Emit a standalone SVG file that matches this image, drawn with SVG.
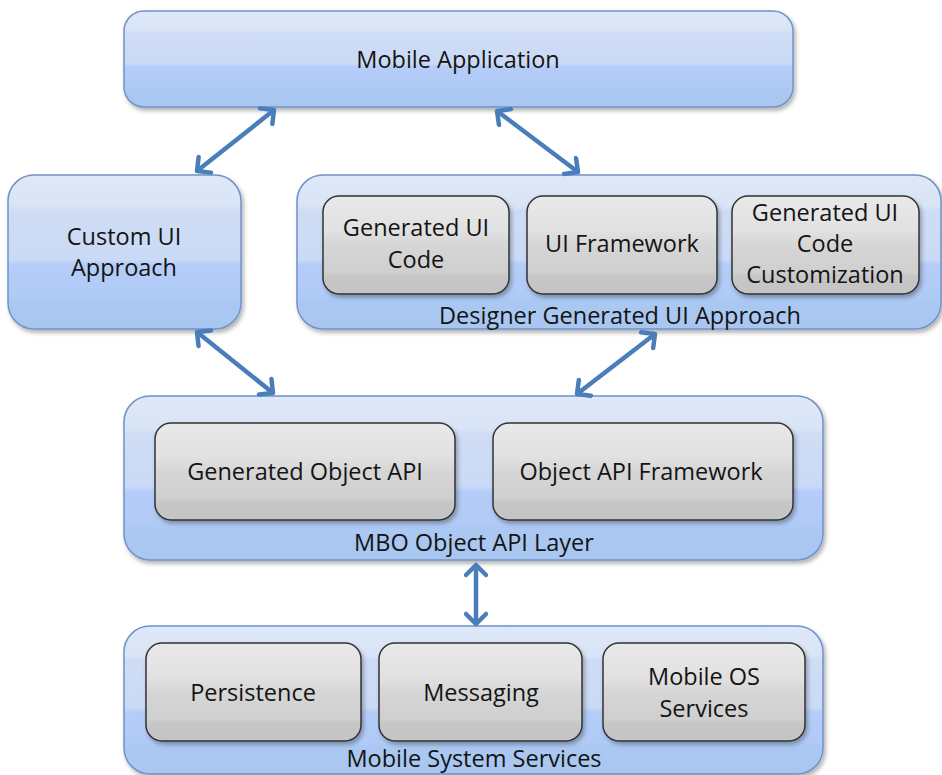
<svg xmlns="http://www.w3.org/2000/svg" width="942" height="775" viewBox="0 0 942 775">
  <defs>
    <linearGradient id="blue" x1="0" y1="0" x2="0" y2="1">
      <stop offset="0" stop-color="#dee8f8"/>
      <stop offset="0.2" stop-color="#d9e4f6"/>
      <stop offset="0.23" stop-color="#cfdcf5"/>
      <stop offset="0.55" stop-color="#cadaf6"/>
      <stop offset="0.58" stop-color="#b5cdf8"/>
      <stop offset="0.78" stop-color="#b0cbf6"/>
      <stop offset="0.82" stop-color="#aac8f2"/>
      <stop offset="1" stop-color="#a8c6ef"/>
    </linearGradient>
    <linearGradient id="gray" x1="0" y1="0" x2="0" y2="1">
      <stop offset="0" stop-color="#e9e9e9"/>
      <stop offset="0.35" stop-color="#e1e1e1"/>
      <stop offset="0.5" stop-color="#d6d6d6"/>
      <stop offset="0.78" stop-color="#cfcfcf"/>
      <stop offset="0.82" stop-color="#c6c6c6"/>
      <stop offset="1" stop-color="#c4c4c4"/>
    </linearGradient>
    <filter id="shadow" x="-5%" y="-5%" width="115%" height="125%">
      <feDropShadow dx="2" dy="3" stdDeviation="2" flood-color="#000" flood-opacity="0.3"/>
    </filter>
    <marker id="arrow" markerUnits="userSpaceOnUse" markerWidth="24" markerHeight="24" viewBox="0 0 24 24" refX="13" refY="12" orient="auto-start-reverse">
      <path d="M3,2 L13,12 L3,22" fill="none" stroke="#4a7ebb" stroke-width="4.5" stroke-linecap="round" stroke-linejoin="round"/>
    </marker>
  </defs>
  <style>
    .outer { fill: url(#blue); stroke: #7093c8; stroke-width: 1.5; filter: url(#shadow); }
    .inner { fill: url(#gray); stroke: #333; stroke-width: 1.5; filter: url(#shadow); }
    text { font-family: "Open Sans", "Liberation Sans", sans-serif; font-size: 23.5px; fill: #141414; text-anchor: middle; }
    .conn { stroke: #4a7ebb; stroke-width: 4.5; fill: none; marker-start: url(#arrow); marker-end: url(#arrow); }
  </style>

  <g id="mobile-application">
    <rect class="outer" x="124" y="11" width="669" height="96" rx="20"/>
    <text x="458" y="68">Mobile Application</text>
  </g>

  <g id="custom-ui">
    <rect class="outer" x="8" y="175" width="233" height="154" rx="26"/>
    <text x="124" y="245">Custom UI</text>
    <text x="124" y="276">Approach</text>
  </g>

  <g id="designer-ui">
    <rect class="outer" x="297" y="175" width="644" height="154" rx="26"/>
    <text x="620" y="324">Designer Generated UI Approach</text>
    <g id="generated-ui-code">
      <rect class="inner" x="323" y="196" width="186" height="98" rx="16"/>
      <text x="416" y="236">Generated UI</text>
      <text x="416" y="268">Code</text>
    </g>
    <g id="ui-framework">
      <rect class="inner" x="527" y="196" width="190" height="98" rx="16"/>
      <text x="622" y="252">UI Framework</text>
    </g>
    <g id="generated-ui-code-customization">
      <rect class="inner" x="732" y="196" width="187" height="98" rx="16"/>
      <text x="825" y="221">Generated UI</text>
      <text x="825" y="252">Code</text>
      <text x="825" y="283">Customization</text>
    </g>
  </g>

  <g id="mbo-object-api-layer">
    <rect class="outer" x="124" y="396" width="699" height="164" rx="26"/>
    <text x="474" y="551">MBO Object API Layer</text>
    <g id="generated-object-api">
      <rect class="inner" x="155" y="423" width="300" height="97" rx="16"/>
      <text x="305" y="480">Generated Object API</text>
    </g>
    <g id="object-api-framework">
      <rect class="inner" x="493" y="423" width="300" height="97" rx="16"/>
      <text x="641" y="480">Object API Framework</text>
    </g>
  </g>

  <g id="mobile-system-services">
    <rect class="outer" x="124" y="626" width="699" height="148" rx="26"/>
    <text x="474" y="767">Mobile System Services</text>
    <g id="persistence">
      <rect class="inner" x="146" y="643" width="215" height="98" rx="16"/>
      <text x="253" y="701">Persistence</text>
    </g>
    <g id="messaging">
      <rect class="inner" x="379" y="643" width="203" height="98" rx="16"/>
      <text x="481" y="701">Messaging</text>
    </g>
    <g id="mobile-os-services">
      <rect class="inner" x="603" y="643" width="202" height="98" rx="16"/>
      <text x="704" y="685">Mobile OS</text>
      <text x="704" y="717">Services</text>
    </g>
  </g>

  <g id="connectors">
    <line class="conn" x1="274" y1="110" x2="197" y2="171"/>
    <line class="conn" x1="497" y1="111" x2="578" y2="172"/>
    <line class="conn" x1="197" y1="332" x2="273" y2="393"/>
    <line class="conn" x1="655" y1="334" x2="577" y2="394"/>
    <line class="conn" x1="476" y1="565" x2="476" y2="624"/>
  </g>
</svg>
